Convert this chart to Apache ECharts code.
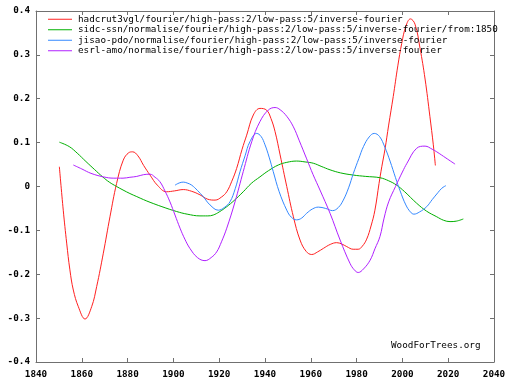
<!DOCTYPE html>
<html>
<head>
<meta charset="utf-8">
<script src="https://cdn.jsdelivr.net/npm/echarts@6/dist/echarts.min.js"></script>
<style>html,body{margin:0;padding:0;background:#fff}#c{width:512px;height:384px}</style>
</head>
<body>
<div id="c"></div>
<script>
const seriesNames = [
  'hadcrut3vgl/fourier/high-pass:2/low-pass:5/inverse-fourier',
  'sidc-ssn/normalise/fourier/high-pass:2/low-pass:5/inverse-fourier/from:1850',
  'jisao-pdo/normalise/fourier/high-pass:2/low-pass:5/inverse-fourier',
  'esrl-amo/normalise/fourier/high-pass:2/low-pass:5/inverse-fourier'
];
const xTicks = [1840, 1860, 1880, 1900, 1920, 1940, 1960, 1980, 2000, 2020, 2040];
const yTicks = [-0.4, -0.3, -0.2, -0.1, 0, 0.1, 0.2, 0.3, 0.4];

const hadcrutYears = [1850.2,1851.9,1853.4,1854.8,1856.3,1858.5,1861.4,1864.3,1866.5,1869.4,1872.3,1875.2,1878.1,1880.5,1882.2,1884.5,1887,1889.8,1893,1897,1900.5,1904.3,1908,1911.6,1915,1918.2,1921,1923.3,1925.5,1927.6,1930,1932,1934.9,1937.8,1940.7,1942.6,1944.4,1946.6,1949.5,1952.4,1955.3,1958,1960.4,1963,1965.5,1968.5,1971.3,1973.5,1975.7,1978.5,1980.7,1982.5,1984.4,1986.3,1988,1989.8,1991,1992.4,1994,1996,1998,1999.7,2001.5,2003.5,2005.5,2007.7,2009.9,2012,2013.5,2014.4];
const hadcrutValues = [0.045,-0.054,-0.129,-0.19,-0.236,-0.274,-0.302,-0.274,-0.228,-0.152,-0.069,0.007,0.06,0.077,0.079,0.07,0.048,0.026,0.003,-0.012,-0.01,-0.007,-0.011,-0.019,-0.029,-0.031,-0.024,-0.012,0.012,0.041,0.085,0.117,0.163,0.178,0.174,0.155,0.125,0.072,0.0,-0.069,-0.122,-0.148,-0.155,-0.149,-0.141,-0.132,-0.128,-0.131,-0.137,-0.143,-0.143,-0.136,-0.12,-0.09,-0.054,0.007,0.045,0.085,0.14,0.205,0.275,0.326,0.365,0.382,0.37,0.315,0.245,0.16,0.095,0.048];

const ssnYears = [1850.2,1854.5,1858,1861.8,1865.5,1869.1,1872,1875.2,1878,1881,1884,1887,1889.8,1895,1901.4,1906,1911.6,1915,1917.4,1920,1923.3,1926.5,1930.5,1934,1937.8,1941.5,1945.8,1949.5,1953.8,1957.5,1961.1,1964.5,1968.4,1973,1978.6,1984,1990.2,1994,1997.5,2001,2006.2,2010.5,2015,2018,2020.8,2023.5,2026.6];
const ssnValues = [0.101,0.091,0.076,0.057,0.039,0.022,0.01,0.0,-0.008,-0.016,-0.023,-0.03,-0.036,-0.046,-0.057,-0.063,-0.067,-0.067,-0.065,-0.058,-0.046,-0.032,-0.012,0.007,0.022,0.036,0.049,0.055,0.058,0.056,0.053,0.046,0.038,0.031,0.026,0.023,0.02,0.013,0.003,-0.012,-0.038,-0.056,-0.069,-0.077,-0.08,-0.079,-0.074];

const pdoYears = [1900.7,1902.5,1904.3,1906,1908,1910.5,1913,1916,1919.6,1922.2,1924.7,1927,1929.1,1931.3,1933.4,1936.4,1938.3,1940,1941.8,1943.6,1946.2,1949.5,1951.5,1953.8,1956,1958.2,1960.8,1963.3,1966.5,1969.5,1972,1974.2,1976.5,1978.6,1981,1983,1985.5,1987.7,1990,1992.3,1994.6,1997,1999,2001.5,2003.5,2005,2007.5,2010.6,2013,2015.5,2017.2,2019];
const pdoValues = [0.003,0.008,0.01,0.008,0.003,-0.009,-0.023,-0.042,-0.054,-0.048,-0.035,-0.005,0.034,0.07,0.102,0.121,0.114,0.095,0.067,0.034,-0.012,-0.054,-0.07,-0.076,-0.072,-0.061,-0.051,-0.047,-0.05,-0.055,-0.048,-0.031,-0.003,0.03,0.064,0.091,0.113,0.121,0.114,0.09,0.058,0.02,-0.01,-0.042,-0.058,-0.063,-0.058,-0.046,-0.03,-0.014,-0.004,0.002];

const amoYears = [1856.3,1860,1864,1869.4,1874,1878,1881,1884,1887,1889.8,1892,1894.1,1896.3,1898.5,1900.7,1902.9,1905,1907.2,1910.5,1913.8,1916.5,1918.9,1921,1923.3,1926.9,1930.5,1934.2,1937.8,1941.4,1944.4,1946.6,1949.5,1952.4,1955,1958.2,1961,1964,1968.4,1972.8,1977.1,1979,1980.7,1983,1985.9,1988,1990.2,1992,1994,1997,2000,2002,2006.2,2009.9,2013,2015,2019,2023];
const amoValues = [0.049,0.04,0.03,0.022,0.019,0.019,0.021,0.023,0.027,0.028,0.021,0.011,-0.01,-0.035,-0.065,-0.095,-0.12,-0.141,-0.162,-0.169,-0.162,-0.149,-0.126,-0.095,-0.035,0.034,0.102,0.148,0.174,0.18,0.175,0.16,0.136,0.104,0.063,0.027,-0.008,-0.061,-0.122,-0.175,-0.19,-0.196,-0.188,-0.168,-0.142,-0.114,-0.072,-0.035,0.0,0.033,0.053,0.087,0.092,0.085,0.079,0.065,0.051];

const colors = ['#ff2020', '#00b000', '#3388ff', '#b020ff'];
const FONT = 'DejaVu Sans Mono';
const pairs = (xs, ys) => xs.map((x, i) => [x, ys[i]]);
const allData = [pairs(hadcrutYears, hadcrutValues), pairs(ssnYears, ssnValues), pairs(pdoYears, pdoValues), pairs(amoYears, amoValues)];

const axisCommon = {
  type: 'value',
  axisLine: { show: true, onZero: false, lineStyle: { color: '#707070', width: 1 } },
  axisTick: { show: true, inside: true, length: 4, lineStyle: { color: '#707070' } },
  splitLine: { show: false }
};
const xMain = Object.assign({}, axisCommon, {
  min: xTicks[0], max: xTicks[xTicks.length - 1], interval: 20, position: 'bottom',
  axisLabel: { show: true, margin: 8, color: '#000', fontFamily: FONT, fontSize: 9.3, fontWeight: 'bold', formatter: v => String(v) }
});
const xTop = Object.assign({}, axisCommon, {
  min: xTicks[0], max: xTicks[xTicks.length - 1], interval: 20, position: 'top', axisLabel: { show: false }
});
const yMain = Object.assign({}, axisCommon, {
  min: yTicks[0], max: yTicks[yTicks.length - 1], interval: 0.1, position: 'left',
  axisLabel: { show: true, margin: 6, color: '#000', fontFamily: FONT, fontSize: 9.3, fontWeight: 'bold',
    formatter: v => Math.abs(v) < 1e-9 ? '0' : v.toFixed(1) }
});
const yRight = Object.assign({}, axisCommon, {
  min: yTicks[0], max: yTicks[yTicks.length - 1], interval: 0.1, position: 'right', axisLabel: { show: false }
});

const chart = echarts.init(document.getElementById('c'), null, { renderer: 'canvas' });
chart.setOption({
  animation: false,
  backgroundColor: '#fff',
  grid: { left: 36, right: 18, top: 11, bottom: 22, containLabel: false },
  xAxis: [xMain, xTop],
  yAxis: [yMain, yRight],
  legend: {
    orient: 'vertical', left: 48, top: 14, padding: 0, itemGap: 0,
    icon: 'rect', itemWidth: 24, itemHeight: 1,
    selectedMode: false,
    data: seriesNames.map((n, i) => ({ name: n, itemStyle: { color: colors[i] } })),
    textStyle: { fontFamily: FONT, fontSize: 9.3, color: '#000', lineHeight: 10.5, padding: [0, 0, 0, 1] }
  },
  graphic: [{
    type: 'text', left: 391, top: 341,
    style: { text: 'WoodForTrees.org', font: '9.3px "DejaVu Sans Mono"', fill: '#000' }
  }],
  series: seriesNames.map((n, i) => ({
    name: n, type: 'line', xAxisIndex: 0, yAxisIndex: 0,
    data: allData[i], smooth: 0.4, showSymbol: false, symbol: 'none',
    lineStyle: { color: colors[i], width: 1 }, itemStyle: { color: colors[i] }
  }))
});
</script>
</body>
</html>
